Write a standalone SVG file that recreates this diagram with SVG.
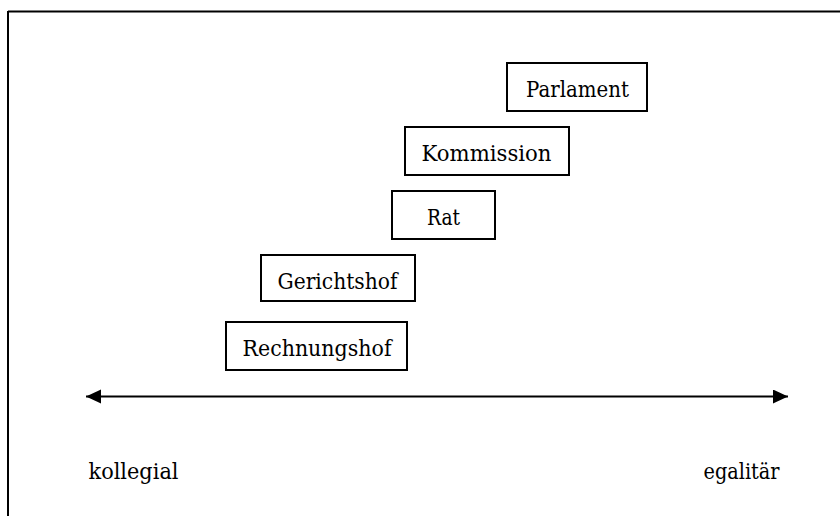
<svg xmlns="http://www.w3.org/2000/svg" width="840" height="516" viewBox="0 0 840 516">
<style>
.box{fill:#fff;stroke:#000;stroke-width:2}
text{font-family:'DejaVu Serif','Liberation Serif',serif;font-size:23px;fill:#000}
</style>
<defs>
<marker id="ah" markerWidth="16" markerHeight="16" refX="15" refY="7" orient="auto-start-reverse" markerUnits="userSpaceOnUse">
<path d="M0,0 L15,7 L0,14 Z" fill="#000"/>
</marker>
</defs>
<rect width="840" height="516" fill="#fff"/>
<g id="frame" fill="none" stroke="#000" stroke-width="2">
<line x1="8" y1="11.5" x2="840" y2="11.5"/>
<line x1="8" y1="11" x2="8" y2="516"/>
</g>
<g id="parlament"><rect class="box" x="507" y="63" width="140" height="48"/><text x="526" y="96.5" textLength="103" lengthAdjust="spacingAndGlyphs">Parlament</text></g>
<g id="kommission"><rect class="box" x="405" y="127" width="164" height="48"/><text x="421.5" y="160.5" textLength="130" lengthAdjust="spacingAndGlyphs">Kommission</text></g>
<g id="rat"><rect class="box" x="392" y="191" width="103" height="48"/><text x="427" y="225" textLength="33" lengthAdjust="spacingAndGlyphs">Rat</text></g>
<g id="gerichtshof"><rect class="box" x="261" y="255" width="154" height="46"/><text x="277.5" y="288.5" textLength="120" lengthAdjust="spacingAndGlyphs">Gerichtshof</text></g>
<g id="rechnungshof"><rect class="box" x="226" y="322" width="181" height="48"/><text x="242.5" y="356" textLength="149" lengthAdjust="spacingAndGlyphs">Rechnungshof</text></g>
<g id="connectors">
<line x1="86" y1="396.5" x2="788" y2="396.5" stroke="#000" stroke-width="2" marker-start="url(#ah)" marker-end="url(#ah)"/>
</g>
<text x="88.5" y="478.5" textLength="90" lengthAdjust="spacingAndGlyphs">kollegial</text>
<text x="703.5" y="478.5" textLength="76" lengthAdjust="spacingAndGlyphs">egalitär</text>
</svg>
